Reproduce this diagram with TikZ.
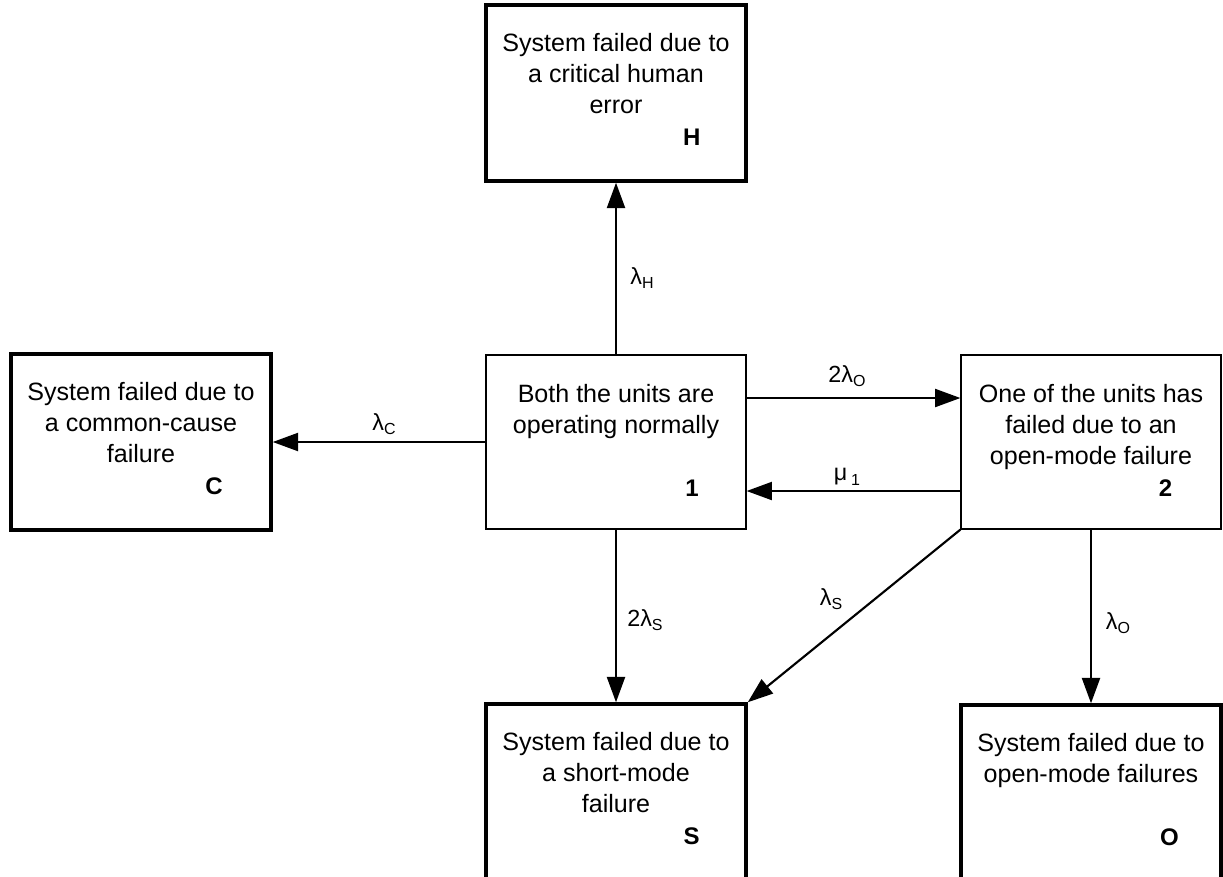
\documentclass[tikz,border=0pt]{standalone}
\usepackage{fontspec}
\setmainfont{Liberation Sans}
\usetikzlibrary{arrows.meta}
% small lowered index after a rate symbol
\newcommand\ratesub[1]{\raisebox{-0.35ex}{\fontsize{12}{12}\selectfont #1}}
\begin{document}
\begin{tikzpicture}[x=0.75pt,y=-0.75pt,
  absorbing/.style={draw=black, line width=2.6pt, minimum width=195pt, minimum height=132pt, inner sep=0pt},
  working/.style={draw=black, line width=0.9pt, minimum width=195pt, minimum height=130.5pt, inner sep=0pt},
  desc/.style={anchor=north, align=center, font=\fontsize{18.8}{23.25}\selectfont, inner sep=0pt},
  tag/.style={font=\fontsize{18}{18}\selectfont\bfseries, inner sep=0pt},
  rate/.style={font=\fontsize{17.5}{17.5}\selectfont, inner sep=0pt},
  flow/.style={line width=1.6pt, -{Triangle[length=19pt,width=13.5pt]}}
]
\path[use as bounding box, clip] (0,0) rectangle (1223,876);
\fill[white] (0,0) rectangle (1223,876);

% states
\node[absorbing] (H) at (616,93) {};
\node[absorbing] (C) at (141,442) {};
\node[working]   (b1) at (616,442) {};
\node[working]   (b2) at (1091,442) {};
\node[absorbing] (S) at (616,792) {};
\node[absorbing] (O) at (1091,793) {};

% state descriptions
\node[desc] (Ht) at ([yshift=-22pt]H.north) {System failed due to\\a critical human\\error};
\node[desc] (Ct) at ([yshift=-22pt]C.north) {System failed due to\\a common-cause\\failure};
\node[desc] (b1t) at ([yshift=-22pt]b1.north) {Both the units are\\operating normally};
\node[desc] (b2t) at ([yshift=-22pt]b2.north) {One of the units has\\failed due to an\\open-mode failure};
\node[desc] (St) at ([yshift=-22pt]S.north) {System failed due to\\a short-mode\\failure};
\node[desc] (Ot) at ([yshift=-22pt]O.north) {System failed due to\\open-mode failures};

% state labels
\node[tag] (Hk) at ([xshift=-42pt,yshift=-100.5pt]H.north east) {H};
\node[tag] (Ck) at ([xshift=-44pt,yshift=-100.5pt]C.north east) {C};
\node[tag] (b1k) at ([xshift=-41pt,yshift=-100.5pt]b1.north east) {1};
\node[tag] (b2k) at ([xshift=-42pt,yshift=-100.5pt]b2.north east) {2};
\node[tag] (Sk) at ([xshift=-42pt,yshift=-100.5pt]S.north east) {S};
\node[tag] (Ok) at ([xshift=-40pt,yshift=-100.5pt]O.north east) {O};

% transitions
\draw[flow] (b1.north) -- (H.south);
\draw[flow] (b1.west) -- (C.east);
\draw[flow] ([yshift=33pt]b1.east) -- ([yshift=33pt]b2.west);
\draw[flow] ([yshift=-36.75pt]b2.west) -- ([yshift=-36.75pt]b1.east);
\draw[flow] (b1.south) -- (S.north);
\draw[flow] (b2.south west) -- (S.north east);
\draw[flow] (b2.south) -- (O.north);

% rates
\node[rate] (rH) at (642,278) {λ\ratesub{H}};
\node[rate] (rC) at (384,424) {λ\ratesub{C}};
\node[rate] (r2O) at (847,376) {2λ\ratesub{O}};
\node[rate] (rmu) at (847,477) {μ\,\ratesub{1}};
\node[rate] (r2S) at (645,620) {2λ\ratesub{S}};
\node[rate] (rS) at (831,599) {λ\ratesub{S}};
\node[rate] (rO) at (1118,623) {λ\ratesub{O}};
\end{tikzpicture}
\end{document}
